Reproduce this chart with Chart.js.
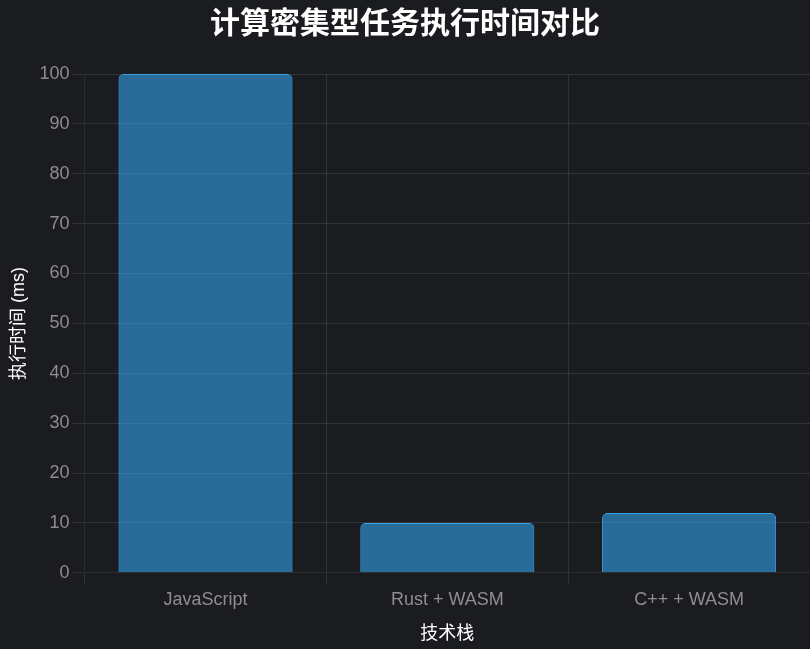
<!DOCTYPE html>
<html>
<head>
<meta charset="utf-8">
<script src="https://cdn.jsdelivr.net/npm/chart.js@4.4.0/dist/chart.umd.min.js"></script>
<style>
html,body{margin:0;padding:0;background:#1b1c20;}
#wrap{width:810px;height:649px;position:relative;}
</style>
</head>
<body>
<div id="wrap"><canvas id="c"></canvas></div>
<script>
const categories = ['JavaScript', 'Rust + WASM', 'C++ + WASM'];
const execTimes = [100, 10, 12];
const chartTitle = '计算密集型任务执行时间对比';
const xTitle = '技术栈';
const yTitle = '执行时间 (ms)';

const FONT = "'Liberation Sans', Arial, 'Noto Sans CJK SC', sans-serif";
const GRID = 'rgba(255,255,255,0.1)';

new Chart(document.getElementById('c'), {
  type: 'bar',
  data: {
    labels: categories,
    datasets: [{
      label: '执行时间 (ms)',
      data: execTimes,
      backgroundColor: 'rgba(54,162,235,0.6)',
      borderColor: 'rgba(54,162,235,1)',
      borderWidth: 1,
      borderRadius: 5
    }]
  },
  options: {
    responsive: true,
    maintainAspectRatio: false,
    animation: false,
    layout: { padding: 0 },
    plugins: {
      legend: { display: false },
      title: {
        display: true,
        text: chartTitle,
        color: '#ffffff',
        font: { family: FONT, size: 30, weight: 'bold' },
        padding: { top: 7, bottom: 31 }
      }
    },
    scales: {
      x: {
        grid: { color: GRID, tickLength: 12 },
        ticks: { color: '#8e8e8e', font: { family: FONT, size: 18 }, padding: 4 },
        title: { display: true, text: xTitle, color: '#ffffff', font: { family: FONT, size: 18 }, padding: { top: 9, bottom: 4 } }
      },
      y: {
        beginAtZero: true,
        max: 100,
        grid: { color: GRID, tickLength: 12 },
        ticks: { color: '#8e8e8e', font: { family: FONT, size: 18 }, stepSize: 10, padding: 3 },
        title: { display: true, text: yTitle, color: '#ffffff', font: { family: FONT, size: 18 }, padding: { top: 8, bottom: 7 } }
      }
    }
  }
});
</script>
</body>
</html>
